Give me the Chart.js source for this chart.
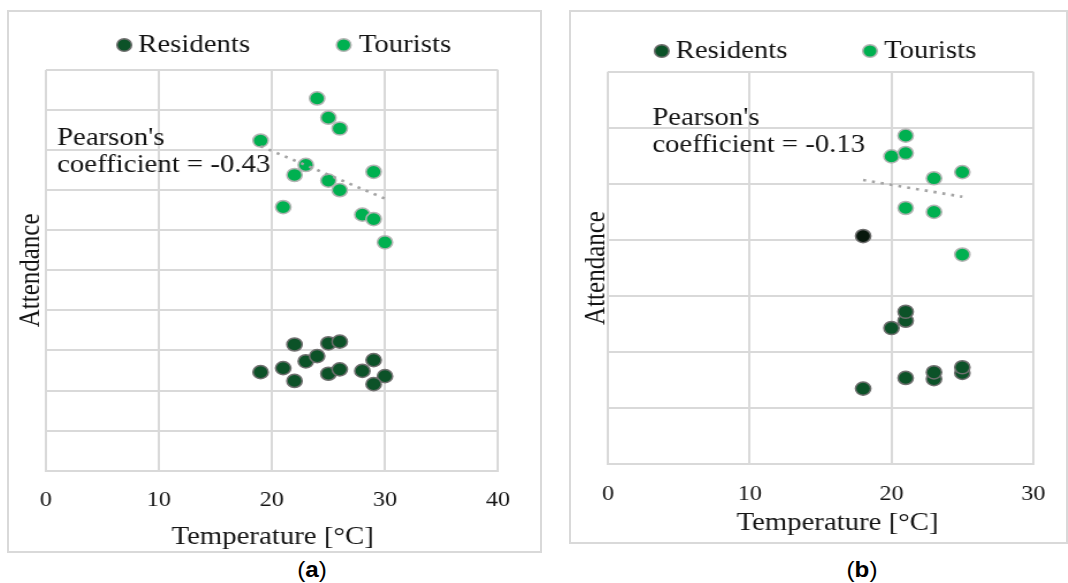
<!DOCTYPE html>
<html>
<head>
<meta charset="utf-8">
<script src="https://cdn.jsdelivr.net/npm/chart.js@4"></script>
<style>
  body{margin:0;background:#fff;width:1068px;height:583px;overflow:hidden;position:relative}
  .panel{position:absolute;border:2px solid #d9d9d9;box-sizing:border-box;overflow:hidden;background:#fff}
  .inner{position:absolute;left:0;top:0;height:100%;transform-origin:0 0;transform:scaleX(1.15)}
  .cap{position:absolute;top:557px;width:80px;text-align:center;font:22px/26px "Liberation Sans",Arial,sans-serif;color:#000;transform:scaleX(1.1)}
  .cap b{font-weight:bold}
</style>
</head>
<body>
<div class="panel" id="panelA" style="left:7px;top:10px;width:535px;height:543px">
  <div class="inner" style="width:461.7px"><canvas id="chartA"></canvas></div>
</div>
<div class="panel" id="panelB" style="left:569px;top:10px;width:499px;height:534px">
  <div class="inner" style="width:430.4px"><canvas id="chartB"></canvas></div>
</div>
<div class="cap" style="left:272px">(<b>a</b>)</div>
<div class="cap" style="left:822px">(<b>b</b>)</div>

<script>
// (a) temperature vs attendance
var resTempA = [19, 21, 22, 22, 23, 24, 25, 26, 25, 26, 28, 29, 30, 29];
var resAttA  = [24.6, 25.6, 31.5, 22.4, 27.3, 28.6, 31.8, 32.2, 24.2, 25.3, 24.9, 27.6, 23.6, 21.6];
var touTempA = [24, 25, 26, 19, 23, 22, 25, 26, 29, 21, 28, 29, 30];
var touAttA  = [92.9, 88.1, 85.4, 82.4, 76.3, 73.8, 72.4, 70.0, 74.6, 65.8, 63.9, 62.8, 57.0];
var trendTempA = [19, 30];
var trendAttA  = [81.0, 67.9];
var noteA = ["Pearson's", "coefficient = -0.43"];
var xTicksA = [0, 10, 20, 30, 40];

// (b) temperature vs attendance
var resTempB = [18, 21, 23, 23, 25, 25, 20, 21, 21, 18];
var resAttB  = [13.5, 15.4, 15.2, 16.4, 16.3, 17.3, 24.3, 25.6, 27.2, 40.7];
var touTempB = [25, 21, 23, 23, 25, 20, 21, 21];
var touAttB  = [37.4, 45.7, 45.0, 51.0, 52.1, 54.9, 55.5, 58.6];
var trendTempB = [18, 25];
var trendAttB  = [50.7, 47.7];
var noteB = ["Pearson's", "coefficient = -0.13"];
var xTicksB = [0, 10, 20, 30];

var seriesNames = ['Residents', 'Tourists'];
var xTitle = 'Temperature [\u00B0C]';
var yTitle = 'Attendance';

var SERIF = '"Liberation Serif", "Times New Roman", serif';
var INK = '#141414';
var GRID = '#d9d9d9';
var RES_FILL = '#0c5228', RES_EDGE = '#6f6f6f';
var TOU_FILL = '#00b050', TOU_EDGE = '#b4b4b4';

function pts(xs, ys){ return xs.map(function(x, i){ return {x: x, y: ys[i]}; }); }

// legend, x-axis caption and correlation note drawn over the chart
function overlay(lay, note){
  return {
    id: 'overlay',
    afterDraw: function(chart){
      var ctx = chart.ctx, ds = chart.data.datasets;
      ctx.save();
      ctx.font = '25px ' + SERIF;
      ctx.textBaseline = 'middle';
      lay.legend.forEach(function(it){
        var d = ds[it.ds];
        ctx.beginPath();
        ctx.arc(it.x, lay.legendY, 6.3, 0, Math.PI * 2);
        ctx.fillStyle = d.backgroundColor; ctx.fill();
        ctx.lineWidth = 1.5; ctx.strokeStyle = d.borderColor; ctx.stroke();
        ctx.fillStyle = INK;
        ctx.fillText(d.label, it.tx, lay.legendY);
      });
      ctx.fillStyle = INK;
      note.forEach(function(line, i){ ctx.fillText(line, lay.noteX, lay.noteY + i * 27); });
      ctx.textAlign = 'center';
      ctx.fillText(xTitle, lay.xTitleX, lay.xTitleY);
      ctx.restore();
    }
  };
}

function build(id, d, lay){
  var canvas = document.getElementById(id);
  var h = canvas.parentNode.clientHeight;
  return new Chart(canvas.getContext('2d'), {
    type: 'scatter',
    data: {
      datasets: [
        {type: 'line', label: 'trend', data: pts(d.trendT, d.trendA), borderColor: '#a3a3a3', borderWidth: 2.6,
         borderDash: [2.6, 5.2], pointRadius: 0, fill: false, order: 0},
        {label: seriesNames[0], data: pts(d.resT, d.resA), backgroundColor: RES_FILL, borderColor: RES_EDGE,
         pointBackgroundColor: function(c){ return c.dataIndex === d.darkIdx ? '#08180d' : RES_FILL; },
         pointRadius: 6.6, borderWidth: 1.5, order: 2},
        {label: seriesNames[1], data: pts(d.touT, d.touA), backgroundColor: TOU_FILL, borderColor: TOU_EDGE,
         pointRadius: 6.6, borderWidth: 1.5, order: 1}
      ]
    },
    options: {
      responsive: true, maintainAspectRatio: false, animation: false, events: [],
      layout: {padding: {top: lay.plotTop, right: lay.padRight, bottom: 0, left: 0}},
      plugins: {legend: {display: false}, tooltip: {enabled: false}},
      scales: {
        x: {
          type: 'linear', min: 0, max: d.xTicks[d.xTicks.length - 1],
          afterBuildTicks: function(s){ s.ticks = d.xTicks.map(function(v){ return {value: v}; }); },
          afterFit: function(s){ s.height = h - lay.plotBottom; },
          grid: {color: GRID, lineWidth: 2, drawTicks: false},
          border: {color: GRID, width: 2},
          ticks: {color: INK, font: {family: SERIF, size: 21}, padding: lay.tickPad, maxRotation: 0}
        },
        y: {
          type: 'linear', min: 0, max: d.yMax,
          ticks: {display: false, stepSize: 10},
          afterFit: function(s){ s.width = lay.yAxisW; },
          grid: {color: GRID, lineWidth: 2, drawTicks: false},
          border: {display: false},
          title: {display: true, text: yTitle, color: INK, font: {family: SERIF, size: 25, lineHeight: 1},
                  padding: {top: lay.yTitlePad, bottom: 0}}
        }
      }
    },
    plugins: [overlay(lay, d.note)]
  });
}

build('chartA', {
  resT: resTempA, resA: resAttA, touT: touTempA, touA: touAttA,
  trendT: trendTempA, trendA: trendAttA, note: noteA, xTicks: xTicksA, yMax: 100, darkIdx: -1
}, {
  plotTop: 58, plotBottom: 458.7, yAxisW: 31.9, padRight: 37.4, tickPad: 16.7, yTitlePad: 7,
  xTitleX: 228.7, xTitleY: 525,
  legendY: 33, legend: [{ds: 1, x: 100, tx: 112}, {ds: 2, x: 290.4, tx: 303.5}],
  noteX: 41.7, noteY: 126.5
});

build('chartB', {
  resT: resTempB, resA: resAttB, touT: touTempB, touA: touAttB,
  trendT: trendTempB, trendA: trendAttB, note: noteB, xTicks: xTicksB, yMax: 70, darkIdx: 9
}, {
  plotTop: 59.7, plotBottom: 452.3, yAxisW: 32.2, padRight: 26.9, tickPad: 18, yTitlePad: 10,
  xTitleX: 231.7, xTitleY: 511,
  legendY: 39, legend: [{ds: 1, x: 78.9, tx: 91}, {ds: 2, x: 260, tx: 272.2}],
  noteX: 70.7, noteY: 106
});
</script>
</body>
</html>
